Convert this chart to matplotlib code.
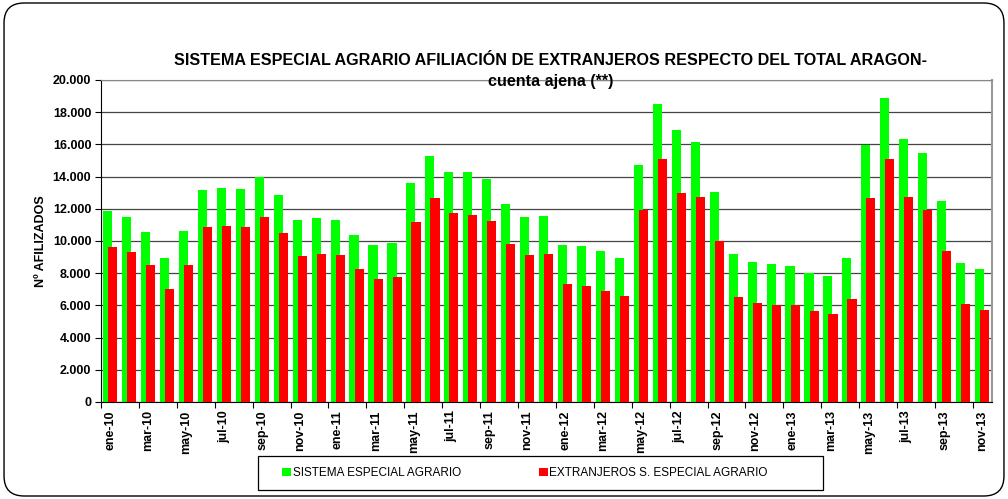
import numpy as np
import matplotlib
matplotlib.use("Agg")
import matplotlib.pyplot as plt
from matplotlib.patches import FancyBboxPatch, Rectangle
from matplotlib.ticker import FuncFormatter

plt.rcParams['font.family'] = ['Liberation Sans', 'DejaVu Sans']

# meses ene-10 .. nov-13
meses = ["ene", "feb", "mar", "abr", "may", "jun",
         "jul", "ago", "sep", "oct", "nov", "dic"]
etiquetas = [f"{m}-{a}" for a in ("10", "11", "12", "13") for m in meses][:47]

# afiliados sistema especial agrario (total)
total_agrario = [11835, 11460, 10530, 8960, 10590, 13140, 13300, 13240, 13965, 12850, 11320, 11400,
                 11275, 10365, 9725, 9870, 13590, 15270, 14315, 14275, 13880, 12310, 11460, 11525,
                 9725, 9680, 9350, 8960, 14750, 18515, 16920, 16135, 13030, 9165, 8665, 8545,
                 8440, 7985, 7800, 8935, 15990, 18865, 16345, 15475, 12455, 8605, 8255]
# extranjeros en el sistema especial agrario
extranjeros = [9640, 9290, 8525, 6990, 8525, 10840, 10925, 10860, 11500, 10470, 9060, 9210,
               9100, 8255, 7635, 7760, 11170, 12700, 11730, 11585, 11215, 9830, 9100, 9185,
               7300, 7220, 6910, 6580, 11915, 15080, 12970, 12720, 10030, 6535, 6145, 6020,
               6000, 5625, 5460, 6410, 12660, 15120, 12720, 11935, 9350, 6060, 5710]

x = np.arange(len(etiquetas))

fig = plt.figure(figsize=(10.08, 4.99), dpi=100)
marco = FancyBboxPatch((0.004, 0.006), 0.992, 0.988, boxstyle="round,pad=0,rounding_size=0.02",
                       transform=fig.transFigure, facecolor="none", edgecolor="black",
                       linewidth=1.0, mutation_aspect=2.0, zorder=5)
fig.patches.append(marco)

ax = fig.add_axes([0.1002, 0.1944, 0.8838, 0.6453])
ax.set_facecolor("white")

ancho = 0.48
ax.bar(x - 0.15, total_agrario, width=ancho, color="#00FF00", label="SISTEMA ESPECIAL AGRARIO", zorder=2)
ax.bar(x + 0.12, extranjeros, width=ancho, color="#FF0000", label="EXTRANJEROS S. ESPECIAL AGRARIO", zorder=3)

ax.set_xlim(-0.5, len(x) - 0.5)
ax.set_ylim(0, 20000)
ax.set_yticks(np.arange(0, 20001, 2000))
ax.yaxis.set_major_formatter(FuncFormatter(lambda v, p: f"{int(v):,}".replace(",", ".")))
ax.grid(axis="y", color="#444444", linewidth=0.9, zorder=1)
ax.set_axisbelow(True)

# ticks entre grupos cada dos meses, etiquetas centradas en el mes
ax.set_xticks(np.arange(-0.5, len(x), 2))
ax.set_xticklabels([])
ax.set_xticks(x[::2], minor=True)
ax.set_xticklabels(etiquetas[::2], minor=True, rotation=90, fontsize=9, fontweight="bold")
ax.tick_params(axis="x", which="minor", length=0, pad=6)
ax.tick_params(axis="x", which="major", length=4, width=0.8, direction="out")
ax.tick_params(axis="y", length=4, width=0.8, labelsize=9, pad=3)
for t in ax.get_yticklabels():
    t.set_fontweight("bold")

ax.spines["left"].set_color("black")
ax.spines["bottom"].set_color("black")
ax.spines["top"].set_color("#888888")
ax.spines["right"].set_color("#999999")
ax.spines["right"].set_linewidth(1.5)

ax.set_ylabel("Nº AFILIZADOS", fontsize=9, fontweight="bold", labelpad=4)

fig.text(0.546, 0.879, "SISTEMA ESPECIAL AGRARIO AFILIACIÓN DE EXTRANJEROS RESPECTO DEL TOTAL ARAGON-",
         ha="center", va="center", fontsize=11.6, fontweight="bold")
fig.text(0.546, 0.836, "cuenta ajena (**)", ha="center", va="center", fontsize=11.6, fontweight="bold")

# leyenda con caja propia
caja = Rectangle((258 / 1008, 9 / 499), 565 / 1008, 34 / 499, transform=fig.transFigure,
                 facecolor="white", edgecolor="black", linewidth=0.9, zorder=4)
fig.patches.append(caja)
leg = fig.legend(loc="center left", ncol=2, bbox_to_anchor=(282 / 1008, 26 / 499),
                 fontsize=8.5, frameon=False,
                 handlelength=0.75, handleheight=0.75, handletextpad=0.15,
                 columnspacing=6.6, borderpad=0, borderaxespad=0)
leg.set_zorder(6)

fig.savefig("out.png", dpi=100)
